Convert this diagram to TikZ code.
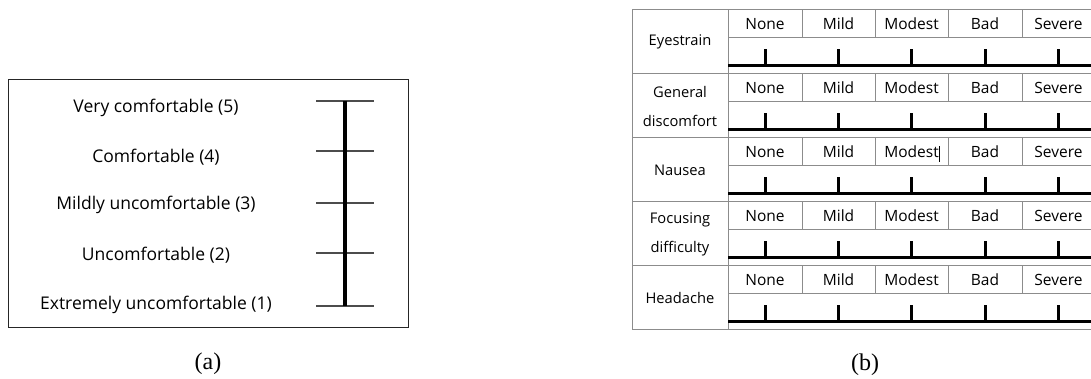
\documentclass[tikz,border=0pt]{standalone}
\usepackage{fontspec}
\setmainfont{Open Sans}
\newfontfamily\capfont{Liberation Serif}
\begin{document}
\begin{tikzpicture}[x=1pt,y=-1pt,
  lbl/.style={font=\fontsize{17.5}{20}\selectfont, inner sep=0pt, text=black},
  hdr/.style={font=\fontsize{15.5}{17}\selectfont, inner sep=0pt, text=black},
  rowlbl/.style={font=\fontsize{14.7}{29}\selectfont, inner sep=0pt, align=center, text=black},
  gridline/.style={draw=black!45, line width=0.9pt},
  frameline/.style={draw=black!85, line width=0.9pt},
  rungline/.style={draw=black!70, line width=1.1pt},
  scalebar/.style={draw=black, line width=3.5pt},
  baseline3/.style={draw=black, line width=3pt},
  tickmark/.style={draw=black, line width=3pt},
  captext/.style={font=\capfont\fontsize{24}{26}\selectfont, inner sep=0pt}]
\useasboundingbox (0,0) rectangle (1091,378);

% ---------- panel (a) ----------
\draw[frameline] (8,79) rectangle (408,327);
\coordinate (vt) at (345,101);
\coordinate (vb) at (345,306);
\foreach \i/\y/\ty/\t in {5/101/108/{Very comfortable (5)},
                          4/151/157/{Comfortable (4)},
                          3/203/205/{Mildly uncomfortable (3)},
                          2/253/255/{Uncomfortable (2)},
                          1/306/305/{Extremely uncomfortable (1)}}{
  \coordinate (tl\i) at (316,\y);
  \coordinate (tr\i) at (374,\y);
  \draw[rungline] (tl\i) -- (tr\i);
  \node[lbl] (la\i) at (156,\ty) {\t};
}
\draw[scalebar] (vt) -- (vb);
\node[captext] (capa) at (208,364) {(a)};

% ---------- panel (b) ----------
\coordinate (tl) at (632,9);
\coordinate (bl) at (632,329);
\coordinate (tm) at (728,9);
\coordinate (bm) at (728,329);
\draw[gridline] (tl) -- (bl);
\draw[gridline] (tm) -- (bm);
\foreach \r/\name in {0/{Eyestrain},1/{General\\discomfort},2/{Nausea},3/{Focusing\\difficulty},4/{Headache}}{
  \pgfmathsetmacro{\T}{9+64*\r}
  \coordinate (rowL\r) at (632,\T);
  \coordinate (rowR\r) at (1091,\T);
  \draw[gridline] (rowL\r) -- (rowR\r);
  \coordinate (hbL\r) at (728,\T+28);
  \coordinate (hbR\r) at (1091,\T+28);
  \draw[gridline] (hbL\r) -- (hbR\r);
  \foreach \bx in {802,875,948,1022}{
    \coordinate (cbT\r-\bx) at (\bx,\T);
    \coordinate (cbB\r-\bx) at (\bx,\T+28);
    \draw[gridline] (cbT\r-\bx) -- (cbB\r-\bx);
  }
  \node[rowlbl] (name\r) at (680,\T+33) {\name};
  \foreach \c/\cx/\h in {1/765/None,2/838.5/Mild,3/911.5/Modest,4/985/Bad,5/1058.5/Severe}{
    \node[hdr] (h\r-\c) at (\cx,\T+15) {\h};
    \coordinate (tkB\r-\c) at (\cx,\T+56);
    \coordinate (tkT\r-\c) at (\cx,\T+40);
    \draw[tickmark] (tkB\r-\c) -- (tkT\r-\c);
  }
  \coordinate (blL\r) at (728,\T+56);
  \coordinate (blR\r) at (1091,\T+56);
  \draw[baseline3] (blL\r) -- (blR\r);
}
\coordinate (botR) at (1091,329);
\draw[gridline] (bl) -- (botR);
% text cursor after "Modest" in the Nausea row
\coordinate (curT) at (939.5,146);
\coordinate (curB) at (939.5,162);
\draw[black, line width=0.6pt] (curT) -- (curB);
\node[captext] (capb) at (865,365) {(b)};
\end{tikzpicture}
\end{document}
